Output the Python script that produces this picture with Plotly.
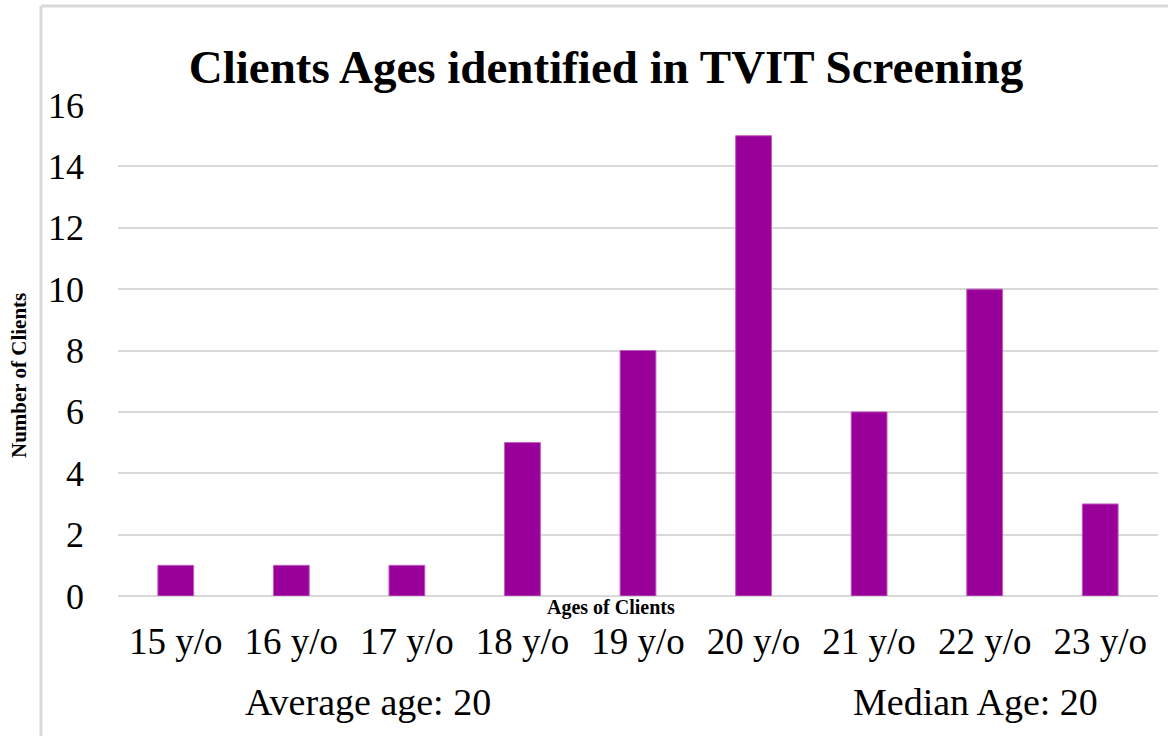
import plotly.graph_objects as go

ages = ["15 y/o", "16 y/o", "17 y/o", "18 y/o", "19 y/o", "20 y/o", "21 y/o", "22 y/o", "23 y/o"]
clients = [1, 1, 1, 5, 8, 15, 6, 10, 3]
y_ticks = [0, 2, 4, 6, 8, 10, 12, 14, 16]

SERIF = "Liberation Serif, Times New Roman, serif"
GRID = "#d9d9d9"

FW, FH = 1168, 736
L, R, T, B = 118, 10, 105, FH - 596
W = FW - L - R
H = FH - T - B


def px_x(x):
    return (x - L) / W


def px_y(y):
    return (FH - B - y) / H


fig = go.Figure(go.Bar(x=ages, y=clients, marker=dict(color="#990099", line=dict(color="#c060c0", width=1))))

fig.update_layout(
    width=FW, height=FH,
    margin=dict(l=L, r=R, t=T, b=B),
    plot_bgcolor="white", paper_bgcolor="white",
    bargap=0.69,
    showlegend=False,
    font=dict(family=SERIF, color="black"),
    title=dict(text="<b>Clients Ages identified in TVIT Screening</b>", x=606 / FW,
               xanchor="center", y=1 - 67 / FH, yanchor="middle", font=dict(size=47, family=SERIF)),
    xaxis=dict(tickfont=dict(size=37), showgrid=False, ticklabelstandoff=20, showline=False),
    yaxis=dict(range=[0, 16], tickvals=y_ticks, tickfont=dict(size=36), gridcolor=GRID, gridwidth=2,
               zeroline=True, zerolinecolor=GRID, zerolinewidth=2, ticklabelstandoff=33),
    shapes=[
        dict(type="line", xref="paper", yref="paper", x0=px_x(41), x1=px_x(41), y0=px_y(6), y1=px_y(740),
             line=dict(color=GRID, width=3)),
        dict(type="line", xref="paper", yref="paper", x0=px_x(41), x1=px_x(1180), y0=px_y(6), y1=px_y(6),
             line=dict(color=GRID, width=3)),
    ],
    annotations=[
        dict(text="<b>Ages of Clients</b>", xref="paper", yref="paper", x=px_x(611), y=px_y(607),
             showarrow=False, font=dict(size=20, family=SERIF), xanchor="center", yanchor="middle"),
        dict(text="<b>Number of Clients</b>", xref="paper", yref="paper", x=px_x(19), y=px_y(376),
             showarrow=False, textangle=-90, font=dict(size=21, family=SERIF), xanchor="center", yanchor="middle"),
        dict(text="Average age: 20", xref="paper", yref="paper", x=px_x(368), y=px_y(702),
             showarrow=False, font=dict(size=38), xanchor="center", yanchor="middle"),
        dict(text="Median Age: 20", xref="paper", yref="paper", x=px_x(975), y=px_y(702),
             showarrow=False, font=dict(size=38), xanchor="center", yanchor="middle"),
    ],
)

# drop the page's default body margin so the figure sits at the window's corner
fig.write_html("out.html", config={"displayModeBar": False},
               post_script="document.body.style.margin='0';document.body.style.overflow='hidden';")
